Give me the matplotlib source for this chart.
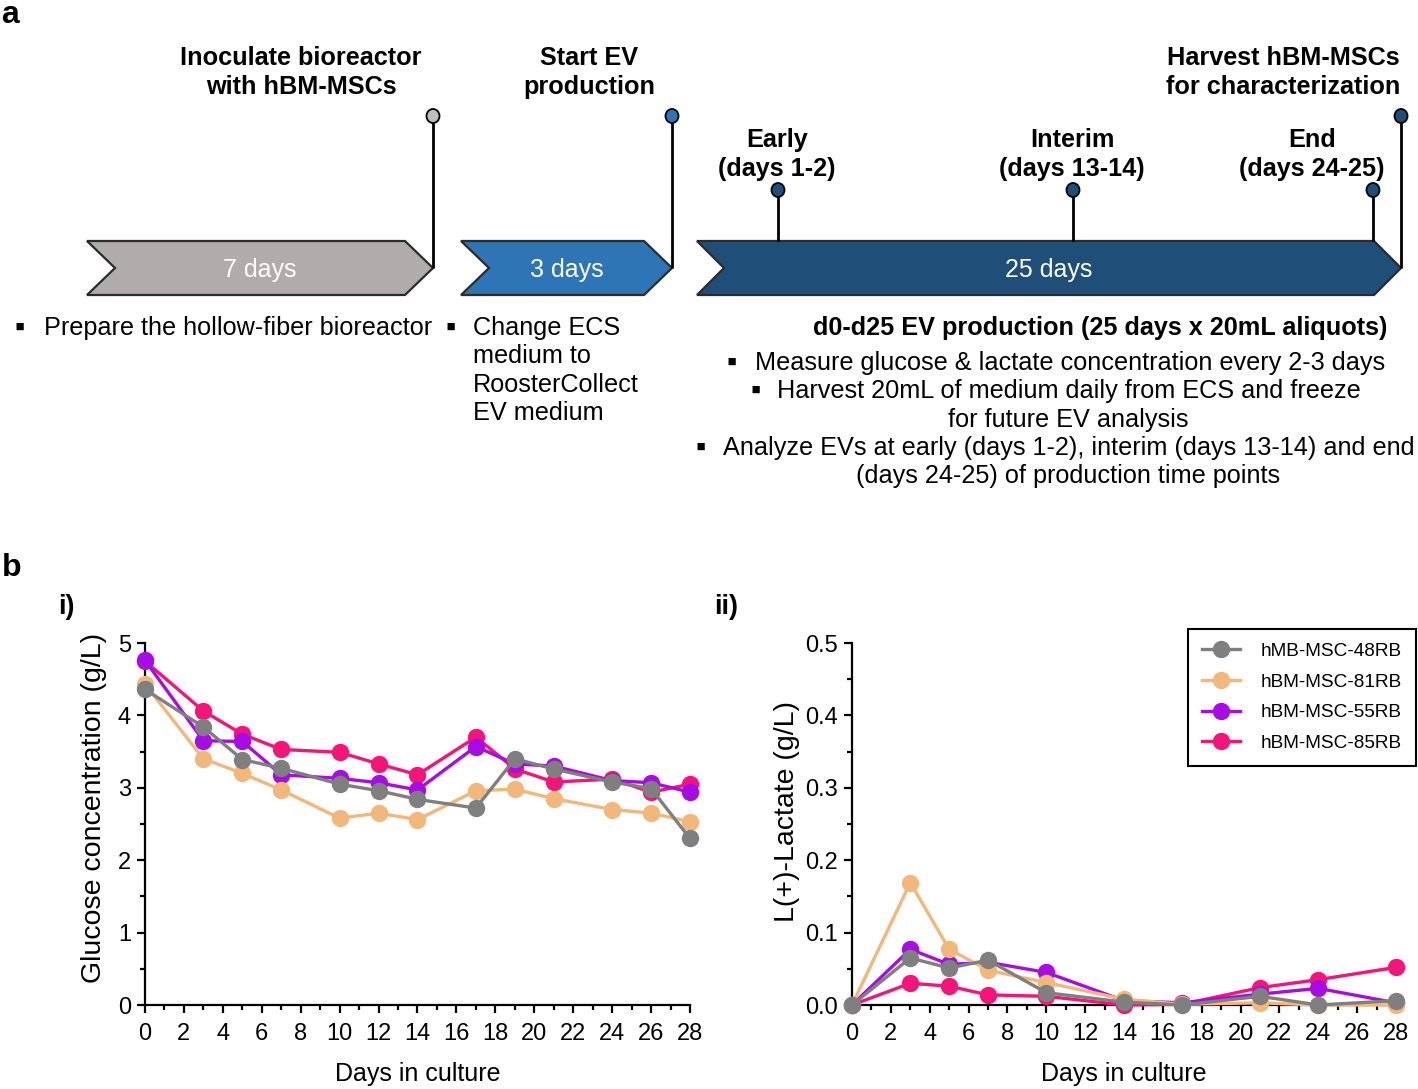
import matplotlib
matplotlib.use("Agg")
import matplotlib.pyplot as plt
from matplotlib.patches import Polygon, Ellipse
from matplotlib.ticker import MultipleLocator, FormatStrFormatter

plt.rcParams['font.family'] = ['Liberation Sans', 'DejaVu Sans']

# ---------------- data ----------------
series_names = ["hMB-MSC-48RB", "hBM-MSC-81RB", "hBM-MSC-55RB", "hBM-MSC-85RB"]
series_colors = ["#7f7f7f", "#f2b77b", "#a80ce4", "#f51478"]

glucose_days = [0, 3, 5, 7, 10, 12, 14, 17, 19, 21, 24, 26, 28]
glucose_48 = [4.36, 3.84, 3.39, 3.27, 3.05, 2.96, 2.84, 2.72, 3.40, 3.26, 3.08, 2.99, 2.30]
glucose_81 = [4.43, 3.40, 3.20, 2.97, 2.58, 2.65, 2.56, 2.96, 2.98, 2.85, 2.70, 2.65, 2.53]
glucose_55 = [4.76, 3.65, 3.64, 3.18, 3.13, 3.07, 2.97, 3.57, 3.33, 3.30, 3.10, 3.07, 2.94]
glucose_85 = [4.75, 4.06, 3.74, 3.53, 3.49, 3.33, 3.18, 3.70, 3.26, 3.08, 3.12, 2.94, 3.05]

lactate_days = [0, 3, 5, 7, 10, 14, 17, 21, 24, 28]
lactate_48 = [0.0, 0.065, 0.051, 0.062, 0.017, 0.004, 0.0, 0.012, 0.0, 0.006]
lactate_81 = [0.0, 0.169, 0.077, 0.048, 0.031, 0.008, 0.001, 0.003, 0.0, 0.0]
lactate_55 = [0.0, 0.077, 0.056, 0.059, 0.045, 0.006, 0.003, 0.015, 0.023, 0.003]
lactate_85 = [0.0, 0.030, 0.026, 0.014, 0.012, 0.0, 0.001, 0.024, 0.035, 0.052]

x_ticks = list(range(0, 29, 2))

# ---------------- figure ----------------
W, H = 1418, 1089
fig = plt.figure(figsize=(W / 100, H / 100), dpi=100)

# overlay axes in pixel coordinates for the timeline diagram
ov = fig.add_axes([0, 0, 1, 1])
ov.set_xlim(0, W)
ov.set_ylim(H, 0)
ov.axis("off")

EDGE = "#2b2b2b"

def chevron(x0, x1, y0, y1, depth, color, label):
    ym = (y0 + y1) / 2
    pts = [(x0, y0), (x1 - depth, y0), (x1, ym), (x1 - depth, y1), (x0, y1), (x0 + depth, ym)]
    ov.add_patch(Polygon(pts, closed=True, facecolor=color, edgecolor=EDGE, lw=1.6, zorder=2))
    ov.text((x0 + x1) / 2, ym + 1.5, label, color="white", fontsize=18,
            ha="center", va="center", zorder=3)

def pin(x, ytop, ybot, color):
    ov.plot([x, x], [ytop, ybot], color="black", lw=2.0, zorder=4, solid_capstyle="butt")
    ov.add_patch(Ellipse((x, ytop), 13, 14, facecolor=color, edgecolor="black", lw=1.3, zorder=5))

chevron(87, 433, 241, 295, 28, "#afacab", "7 days")
chevron(461, 672, 241, 295, 28, "#2e75b6", "3 days")
chevron(697, 1401, 241, 295, 27, "#1f4e79", "25 days")

pin(433, 116, 268, "#bdbdbd")
pin(672, 116, 268, "#2e75b6")
pin(778, 190, 241, "#1f4e79")
pin(1073, 190, 241, "#1f4e79")
pin(1373, 190, 241, "#1f4e79")
pin(1401, 116, 268, "#1f4e79")

bold_kw = dict(fontsize=18.2, fontweight="bold", ha="center", va="center", linespacing=1.3)
ov.text(301, 72.5, "Inoculate bioreactor\nwith hBM-MSCs", **bold_kw)
ov.text(589, 72.5, "Start EV\nproduction", **bold_kw)
ov.text(1283, 72.5, "Harvest hBM-MSCs\nfor characterization", **bold_kw)
ov.text(777, 154.5, "Early\n(days 1-2)", **bold_kw)
ov.text(1072, 154.5, "Interim\n(days 13-14)", **bold_kw)
ov.text(1312, 154.5, "End\n(days 24-25)", **bold_kw)

reg = dict(fontsize=18.2, va="center")
bullet = dict(fontsize=21, va="center", ha="center")
dy = 2
ov.text(20, 326 + dy, "▪", **bullet)
ov.text(44, 326 + dy, "Prepare the hollow-fiber bioreactor", ha="left", **reg)
ov.text(451, 326 + dy, "▪", **bullet)
for i, line in enumerate(["Change ECS", "medium to", "RoosterCollect", "EV medium"]):
    ov.text(473, 326 + dy + i * 28.3, line, ha="left", **reg)

ov.text(1100, 326 + dy, "d0-d25 EV production (25 days x 20mL aliquots)", fontsize=18.2,
        fontweight="bold", ha="center", va="center")
ov.text(732, 361 + dy, "▪", **bullet)
ov.text(755, 361 + dy, "Measure glucose & lactate concentration every 2-3 days", ha="left", **reg)
ov.text(756, 389 + dy, "▪", **bullet)
ov.text(777, 389 + dy, "Harvest 20mL of medium daily from ECS and freeze", ha="left", **reg)
ov.text(1068, 418 + dy, "for future EV analysis", ha="center", **reg)
ov.text(701, 446 + dy, "▪", **bullet)
ov.text(723, 446 + dy, "Analyze EVs at early (days 1-2), interim (days 13-14) and end", ha="left", **reg)
ov.text(1068, 474 + dy, "(days 24-25) of production time points", ha="center", **reg)

# panel labels
ov.text(10, 15, "a", fontsize=23, fontweight="bold", ha="center", va="center")
ov.text(12, 568, "b", fontsize=23, fontweight="bold", ha="center", va="center")
ov.text(66, 607, "i)", fontsize=19.5, fontweight="bold", ha="center", va="center")
ov.text(726, 607, "ii)", fontsize=19.5, fontweight="bold", ha="center", va="center")

# ---------------- charts ----------------
bottom = (H - 1005) / H
height = (1005 - 643) / H
ax1 = fig.add_axes([145 / W, bottom, 545 / W, height])
ax2 = fig.add_axes([852 / W, bottom, 544 / W, height])

glucose = [glucose_48, glucose_81, glucose_55, glucose_85]
lactate = [lactate_48, lactate_81, lactate_55, lactate_85]

handles = [None] * 4
for idx in [3, 2, 1, 0]:
    h, = ax1.plot(glucose_days, glucose[idx], color=series_colors[idx], lw=2.4,
                  marker="o", ms=11.5, clip_on=False, zorder=3 + (3 - idx))
    ax2.plot(lactate_days, lactate[idx], color=series_colors[idx], lw=2.4,
             marker="o", ms=11.5, clip_on=False, zorder=3 + (3 - idx))
    handles[idx] = h

for ax, ymax, major, minor in [(ax1, 5, 1, 0.5), (ax2, 0.5, 0.1, 0.05)]:
    ax.set_xlim(0, 28)
    ax.set_ylim(0, ymax)
    ax.set_xticks(x_ticks)
    ax.xaxis.set_minor_locator(MultipleLocator(1))
    ax.yaxis.set_major_locator(MultipleLocator(major))
    ax.yaxis.set_minor_locator(MultipleLocator(minor))
    for s in ["top", "right"]:
        ax.spines[s].set_visible(False)
    for s in ["left", "bottom"]:
        ax.spines[s].set_linewidth(1.6)
    ax.tick_params(which="major", length=6, width=1.6, labelsize=17, pad=4)
    ax.tick_params(which="minor", length=3.5, width=1.6)
    ax.tick_params(axis="x", which="major", pad=7)
    ax.set_xlabel("Days in culture", fontsize=18, labelpad=12)

ax2.yaxis.set_major_formatter(FormatStrFormatter("%.1f"))
ax1.set_ylabel("Glucose concentration (g/L)", fontsize=20.5)
ax2.set_ylabel("L(+)-Lactate (g/L)", fontsize=20.5)
ax1.yaxis.set_label_coords((107 - 145) / 545, 0.545)
ax2.yaxis.set_label_coords((800 - 852) / 544, 0.535)

leg = ax2.legend(handles, series_names, loc="upper right",
                 bbox_to_anchor=(1416 / W, 1 - 629 / H), bbox_transform=fig.transFigure,
                 borderaxespad=0, fontsize=13.7, frameon=True, fancybox=False,
                 handlelength=2.0, handletextpad=1.1, labelspacing=0.7, borderpad=0.72,
                 edgecolor="black", framealpha=1)
leg.get_frame().set_linewidth(1.5)

fig.savefig("out.png", dpi=100)
